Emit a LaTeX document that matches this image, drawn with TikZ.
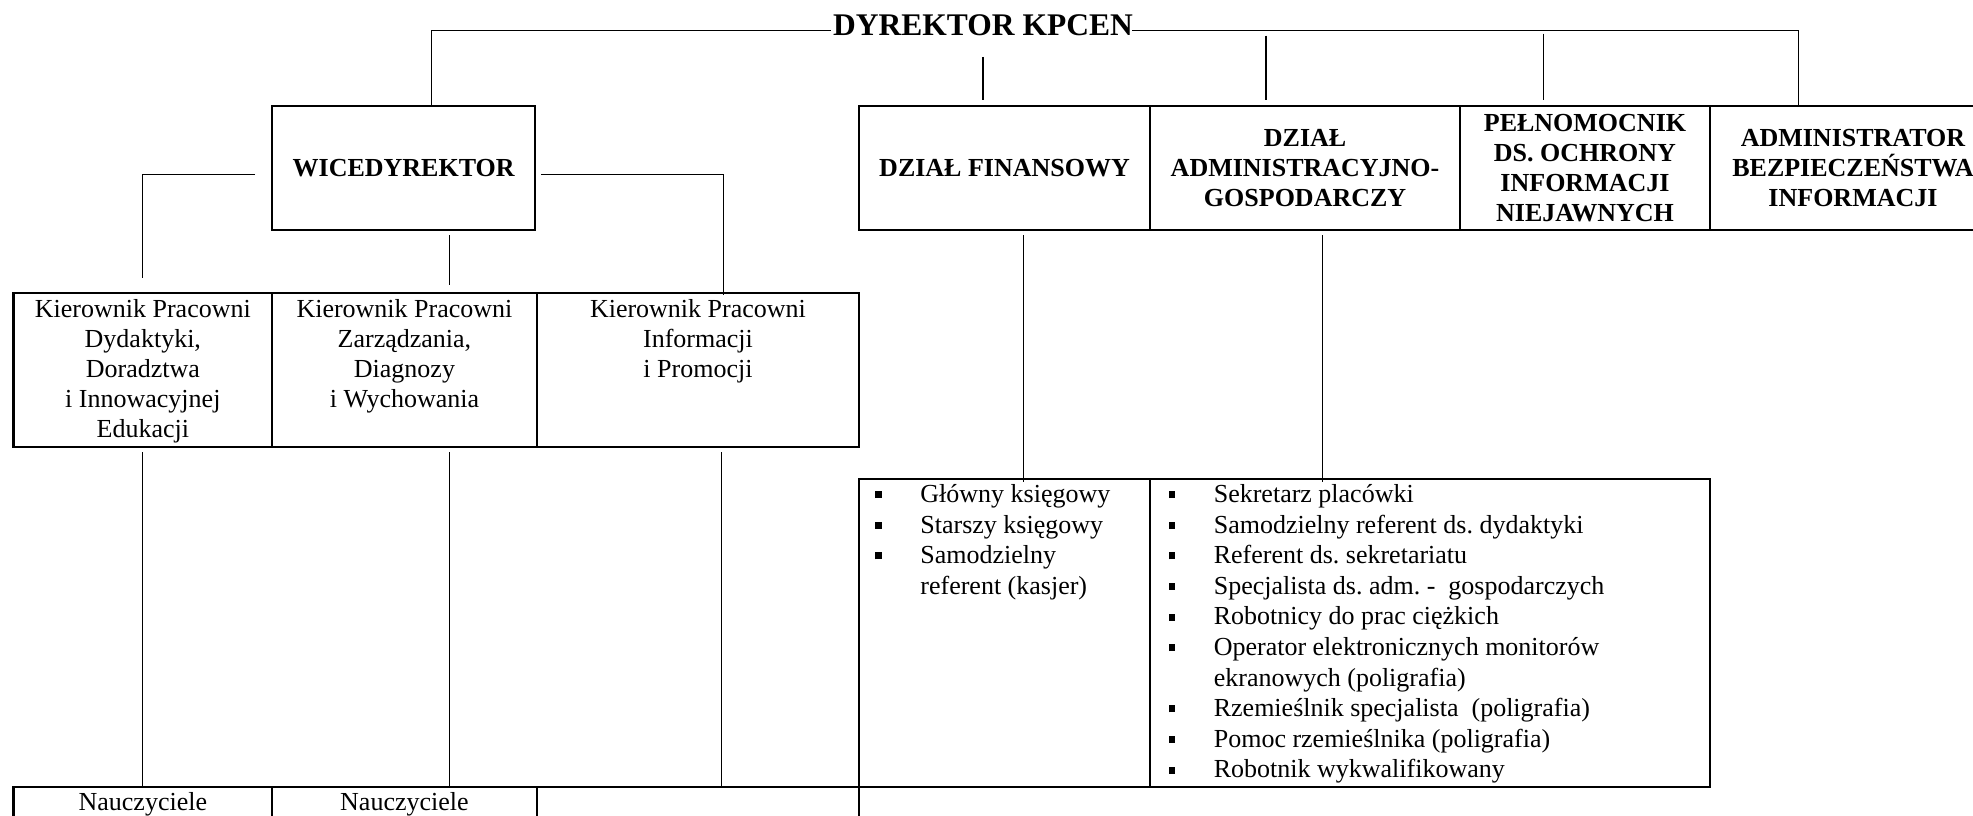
\documentclass[tikz,border=0pt]{standalone}
\usepackage{fontspec}
\setmainfont{Liberation Serif}
\usetikzlibrary{calc}
\newcommand{\pkt}{\makebox[22.5pt][l]{\raisebox{2.2pt}{\rule{3.2pt}{3.5pt}}}}
\newcommand{\dalej}{\hspace*{22.5pt}}
\tikzset{
	ramka/.style={draw, line width=1.2pt, inner sep=0pt, anchor=north west},
	linia/.style={line width=0.6pt},
	naglowek/.style={align=center, font=\bfseries\fontsize{13}{15}\selectfont},
	opis/.style={align=center, inner sep=0pt, anchor=north, font=\fontsize{13}{15}\selectfont},
	lista/.style={align=left, inner sep=0pt, anchor=north west, font=\fontsize{13}{15.3}\selectfont},
}

\begin{document}
\frenchspacing
\begin{tikzpicture}[x=0.5pt, y=-0.5pt]
			%%%%% START %%%%%
			\useasboundingbox (0, 0) rectangle (1973, 815);
			\clip (0, 0) rectangle (1973, 815);
			
			\node[font=\bfseries\fontsize{15.75}{18}\selectfont, inner xsep=1pt, inner ysep=0pt, anchor=base] (dyr) at (983, 35) {DYREKTOR KPCEN};
			
			% gorny rzad
			\node[ramka, naglowek, minimum width=131.5pt, minimum height=62pt] (wice) at (271, 105) {WICEDYREKTOR};
			\node[ramka, naglowek, minimum width=145.35pt, minimum height=62pt] (fin) at (858, 105) {DZIAŁ FINANSOWY};
			\node[ramka, naglowek, minimum width=155.15pt, minimum height=62pt] (adm) at (1148.7, 105) {DZIAŁ\\ADMINISTRACYJNO-\\GOSPODARCZY};
			\node[ramka, naglowek, minimum width=124.75pt, minimum height=62pt] (pel) at (1459, 105) {PEŁNOMOCNIK\\DS. OCHRONY\\INFORMACJI\\NIEJAWNYCH};
			\node[ramka, naglowek, minimum width=143.25pt, minimum height=62pt] (abi) at (1708.5, 105) {ADMINISTRATOR\\BEZPIECZEŃSTWA\\INFORMACJI};
			
			% kierownicy pracowni
			\node[ramka, minimum width=129.35pt, minimum height=77.15pt] (k1) at (12.3, 291.7) {};
			\node[ramka, minimum width=132.25pt, minimum height=77.15pt] (k2) at (271, 291.7) {};
			\node[ramka, minimum width=161.25pt, minimum height=77.15pt] (k3) at (535.5, 291.7) {};
			\node[opis] (tk1) at ([yshift=-3.75pt]k1.north) {Kierownik Pracowni\\Dydaktyki,\\Doradztwa\\i Innowacyjnej\\Edukacji};
			\node[opis] (tk2) at ([yshift=-3.75pt]k2.north) {Kierownik Pracowni\\Zarządzania,\\Diagnozy\\i Wychowania};
			\node[opis] (tk3) at ([yshift=-3.75pt]k3.north) {Kierownik Pracowni\\Informacji\\i Promocji};
			
			% nauczyciele
			\node[ramka, minimum width=129.35pt, minimum height=60pt] (n1) at (12.3, 786) {};
			\node[ramka, minimum width=132.25pt, minimum height=60pt] (n2) at (271, 786) {};
			\node[ramka, minimum width=161.25pt, minimum height=60pt] (n3) at (535.5, 786) {};
			\node[opis] (tn1) at ([yshift=-3.1pt]n1.north) {Nauczyciele};
			\node[opis] (tn2) at ([yshift=-3.1pt]n2.north) {Nauczyciele};
			
			% stanowiska
			\node[ramka, minimum width=145.4pt, minimum height=154pt] (lf) at (858, 477.7) {};
			\node[ramka, minimum width=279.85pt, minimum height=154pt] (la) at (1148.8, 477.7) {};
			\node[lista] (tlf) at ([xshift=8.5pt, yshift=-3.2pt]lf.north west) {\pkt Główny księgowy\\\pkt Starszy księgowy\\\pkt Samodzielny\\\dalej referent (kasjer)};
			\node[lista] (tla) at ([xshift=9.8pt, yshift=-3.2pt]la.north west) {\pkt Sekretarz placówki\\
				\pkt Samodzielny referent ds. dydaktyki\\
				\pkt Referent ds. sekretariatu\\
				\pkt Specjalista ds. adm. -\ \ gospodarczych\\
				\pkt Robotnicy do prac ciężkich\\
				\pkt Operator elektronicznych monitorów\\
				\dalej ekranowych (poligrafia)\\
				\pkt Rzemieślnik specjalista\ \ (poligrafia)\\
				\pkt Pomoc rzemieślnika (poligrafia)\\
				\pkt Robotnik wykwalifikowany};
			
			% polaczenia od dyrektora
			\coordinate (szyna) at ([yshift=-3pt]dyr.east);
			\draw[linia] ([yshift=-3pt]dyr.west) -| ([xshift=14pt]wice.north);
			\draw[linia] ([xshift=-1.5pt]szyna) -| ([xshift=-27.4pt]abi.north);
			\draw[linia, shorten <=10.6pt, shorten >=2.5pt] (dyr.south) -- (dyr.south |- fin.north);
			\draw[linia, shorten <=2.5pt, shorten >=2.5pt] ([xshift=-19.5pt]adm.north |- szyna) -- ([xshift=-19.5pt]adm.north);
			\draw[linia, shorten <=1.5pt, shorten >=2.5pt] ([xshift=-20.85pt]pel.north |- szyna) -- ([xshift=-20.85pt]pel.north);
			
			% polaczenia od wicedyrektora
			\draw[linia] ([xshift=-8pt, yshift=-3pt]wice.west) -| ([yshift=7pt]k1.north);
			\draw[linia] ([xshift=2.5pt, yshift=-3pt]wice.east) -| ([xshift=12.9pt, yshift=-1.5pt]k3.north);
			\draw[linia, shorten >=3.3pt] ([xshift=22.7pt, yshift=-2pt]wice.south) -- ([xshift=22.7pt]wice.south |- k2.north);
			
			\draw[linia] ([yshift=-2pt]k1.south) -- (k1.south |- n1.north);
			\draw[linia] ([xshift=22.4pt, yshift=-2pt]k2.south) -- ([xshift=22.4pt]k2.south |- n2.north);
			\draw[linia] ([xshift=11.8pt, yshift=-2pt]k3.south) -- ([xshift=11.8pt]k3.south |- n3.north);
			
			% polaczenia do stanowisk
			\draw[linia] ([xshift=9.3pt, yshift=-2pt]fin.south) -- ([xshift=9.3pt, yshift=-2pt]fin.south |- lf.north);
			\draw[linia] ([xshift=8.6pt, yshift=-2pt]adm.south) -- ([xshift=8.6pt, yshift=-2pt]adm.south |- la.north);
			%%%%% END %%%%%
\end{tikzpicture}
\end{document}
